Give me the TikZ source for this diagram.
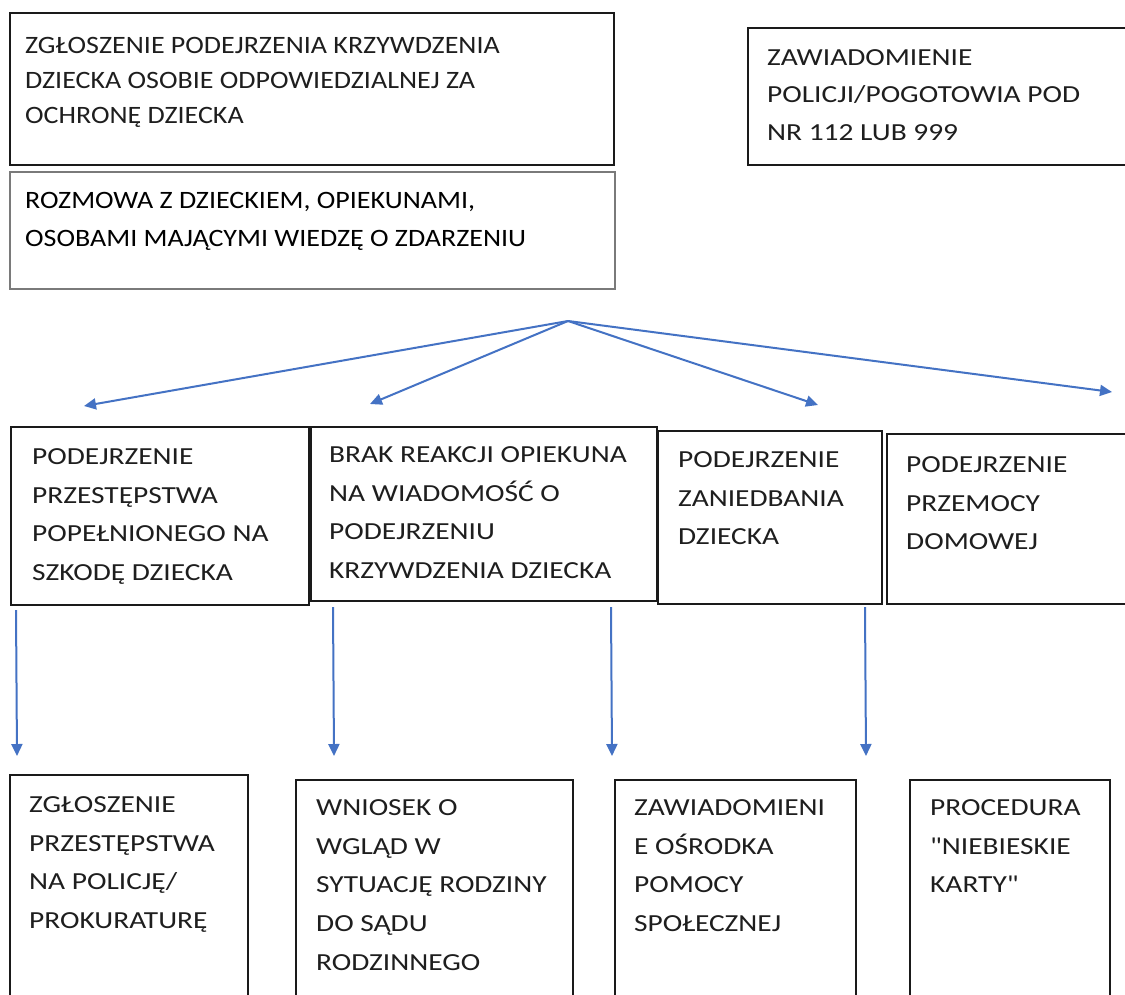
\documentclass[tikz,border=0pt]{standalone}
\usepackage{fontspec}
\setmainfont{Carlito}
\newfontfamily\fa[FakeStretch=1.12]{Carlito}
\newfontfamily\fb[FakeStretch=1.2]{Carlito}
\usetikzlibrary{arrows.meta}
\definecolor{boxc}{HTML}{1A1A1A}
\definecolor{boxg}{HTML}{7A7A7A}
\definecolor{txtc}{HTML}{1E1E1E}
\definecolor{arrc}{HTML}{4472C4}
\tikzset{
  box/.style={draw=boxc, line width=1.7pt, inner sep=0pt, anchor=north west},
  txt/.style={anchor=north west, inner sep=0pt, align=left, text=txtc},
  ftop/.style={font=\fa\fontsize{25}{35}\selectfont},
  ftopb/.style={font=\fa\fontsize{25}{38.5}\selectfont},
  fthree/.style={font=\fb\fontsize{24.5}{37.5}\selectfont},
  flow/.style={font=\fb\fontsize{24.5}{38.8}\selectfont},
  arr/.style={draw=arrc, line width=2pt, -{Triangle[length=12pt,width=11pt]}}
}
\newcommand{\fs}{\rule{0pt}{20pt}}
\begin{document}
\begin{tikzpicture}[x=1pt,y=-1pt]
\clip (0,0) rectangle (1125,994);
\fill[white] (0,0) rectangle (1125,994);
% top boxes
\node[box, minimum width=604pt, minimum height=152pt] (b1) at (9,12) {};
\node[box, draw=boxg, minimum width=605pt, minimum height=117pt] (b2) at (9,171) {};
\node[box, minimum width=383pt, minimum height=137pt] (b3) at (747,27) {};
\node[txt, ftop] (t1) at (25,33) {\fs ZGŁOSZENIE PODEJRZENIA KRZYWDZENIA\\DZIECKA OSOBIE ODPOWIEDZIALNEJ ZA\\OCHRONĘ DZIECKA};
\node[txt, ftopb, text=black] (t2) at (25,188) {\fs ROZMOWA Z DZIECKIEM, OPIEKUNAMI,\\OSOBAMI MAJĄCYMI WIEDZĘ O ZDARZENIU};
\node[txt, fthree] (t3) at (767,45) {\fs ZAWIADOMIENIE\\POLICJI/POGOTOWIA POD\\NR 112 LUB 999};
% middle row
\node[box, minimum width=298pt, minimum height=178pt] (ba) at (10,426) {};
\node[box, minimum width=346pt, minimum height=174pt] (bb) at (310,426) {};
\node[box, minimum width=224pt, minimum height=173pt] (bc) at (657,430) {};
\node[box, minimum width=244pt, minimum height=170pt] (bd) at (886,433) {};
\node[txt, flow] (ta) at (32,444) {\fs PODEJRZENIE\\PRZESTĘPSTWA\\POPEŁNIONEGO NA\\SZKODĘ DZIECKA};
\node[txt, flow] (tb) at (329,442) {\fs BRAK REAKCJI OPIEKUNA\\NA WIADOMOŚĆ O\\PODEJRZENIU\\KRZYWDZENIA DZIECKA};
\node[txt, flow] (tc) at (678,447) {\fs PODEJRZENIE\\ZANIEDBANIA\\DZIECKA};
\node[txt, flow] (td) at (906,452) {\fs PODEJRZENIE\\PRZEMOCY\\DOMOWEJ};
% bottom row
\node[box, minimum width=238pt, minimum height=230pt] (be) at (9,774) {};
\node[box, minimum width=277pt, minimum height=225pt] (bf) at (295,779) {};
\node[box, minimum width=241pt, minimum height=225pt] (bg) at (614,779) {};
\node[box, minimum width=200pt, minimum height=225pt] (bh) at (909,779) {};
\node[txt, flow] (te) at (29,792) {\fs ZGŁOSZENIE\\PRZESTĘPSTWA\\NA POLICJĘ/\\PROKURATURĘ};
\node[txt, flow] (tf) at (316,795) {\fs WNIOSEK O\\WGLĄD W\\SYTUACJĘ RODZINY\\DO SĄDU\\RODZINNEGO};
\node[txt, flow] (tg) at (634,795) {\fs ZAWIADOMIENI\\E OŚRODKA\\POMOCY\\SPOŁECZNEJ};
\node[txt, flow] (th) at (930,795) {\fs PROCEDURA\\"NIEBIESKIE\\KARTY"};
% fan arrows
\coordinate (o) at (568,321);
\coordinate (f1) at (84,406);
\coordinate (f2) at (370,404);
\coordinate (f3) at (818,405);
\coordinate (f4) at (1112,392);
\draw[arr] (o) -- (f1);
\draw[arr] (o) -- (f2);
\draw[arr] (o) -- (f3);
\draw[arr] (o) -- (f4);
% vertical arrows
\coordinate (v1s) at (16,610);
\coordinate (v1e) at (17,756);
\coordinate (v2s) at (333,607);
\coordinate (v2e) at (334,756);
\coordinate (v3s) at (611,607);
\coordinate (v3e) at (612,756);
\coordinate (v4s) at (865,607);
\coordinate (v4e) at (866,756);
\draw[arr] (v1s) -- (v1e);
\draw[arr] (v2s) -- (v2e);
\draw[arr] (v3s) -- (v3e);
\draw[arr] (v4s) -- (v4e);
\end{tikzpicture}
\end{document}
